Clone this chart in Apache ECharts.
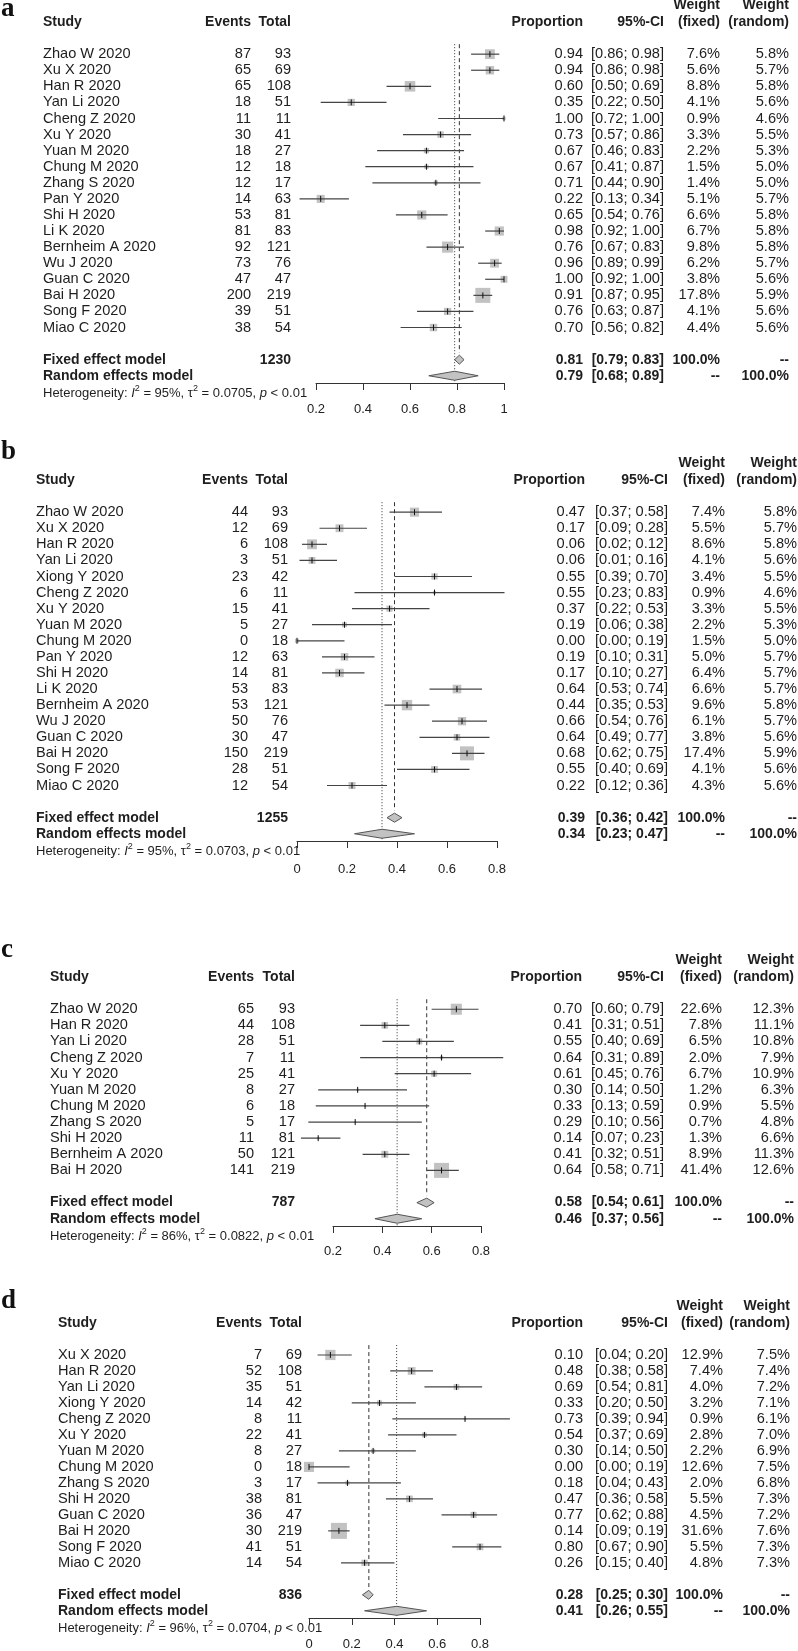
<!DOCTYPE html>
<html><head><meta charset="utf-8">
<script src="https://cdn.jsdelivr.net/npm/echarts@6/dist/echarts.min.js"></script>
<style>html,body{margin:0;padding:0;background:#fff}#c{width:798px;height:1651px}</style>
</head><body><div id="c"></div>
<script>
// ---------- Panel a ----------
const studiesA = ['Zhao W 2020','Xu X 2020','Han R 2020','Yan Li 2020','Cheng Z 2020','Xu Y 2020','Yuan M 2020','Chung M 2020','Zhang S 2020','Pan Y 2020','Shi H 2020','Li K 2020','Bernheim A 2020','Wu J 2020','Guan C 2020','Bai H 2020','Song F 2020','Miao C 2020'];
const eventsA = [87,65,65,18,11,30,18,12,12,14,53,81,92,73,47,200,39,38];
const totalA = [93,69,108,51,11,41,27,18,17,63,81,83,121,76,47,219,51,54];
const propA = [0.94,0.94,0.60,0.35,1.00,0.73,0.67,0.67,0.71,0.22,0.65,0.98,0.76,0.96,1.00,0.91,0.76,0.70];
const lowerA = [0.86,0.86,0.50,0.22,0.72,0.57,0.46,0.41,0.44,0.13,0.54,0.92,0.67,0.89,0.92,0.87,0.63,0.56];
const upperA = [0.98,0.98,0.69,0.50,1.00,0.86,0.83,0.87,0.90,0.34,0.76,1.00,0.83,0.99,1.00,0.95,0.87,0.82];
const wFixedA = [7.6,5.6,8.8,4.1,0.9,3.3,2.2,1.5,1.4,5.1,6.6,6.7,9.8,6.2,3.8,17.8,4.1,4.4];
const wRandomA = [5.8,5.7,5.8,5.6,4.6,5.5,5.3,5.0,5.0,5.7,5.8,5.8,5.8,5.7,5.6,5.9,5.6,5.6];
const fixedA = [0.81,0.79,0.83];
const randomA = [0.79,0.68,0.89];
const sumTotalA = 1230;
const hetA = ['95%','0.0705','< 0.01'];
const ticksA = [0.2,0.4,0.6,0.8,1];

// ---------- Panel b ----------
const studiesB = ['Zhao W 2020','Xu X 2020','Han R 2020','Yan Li 2020','Xiong Y 2020','Cheng Z 2020','Xu Y 2020','Yuan M 2020','Chung M 2020','Pan Y 2020','Shi H 2020','Li K 2020','Bernheim A 2020','Wu J 2020','Guan C 2020','Bai H 2020','Song F 2020','Miao C 2020'];
const eventsB = [44,12,6,3,23,6,15,5,0,12,14,53,53,50,30,150,28,12];
const totalB = [93,69,108,51,42,11,41,27,18,63,81,83,121,76,47,219,51,54];
const propB = [0.47,0.17,0.06,0.06,0.55,0.55,0.37,0.19,0.00,0.19,0.17,0.64,0.44,0.66,0.64,0.68,0.55,0.22];
const lowerB = [0.37,0.09,0.02,0.01,0.39,0.23,0.22,0.06,0.00,0.10,0.10,0.53,0.35,0.54,0.49,0.62,0.40,0.12];
const upperB = [0.58,0.28,0.12,0.16,0.70,0.83,0.53,0.38,0.19,0.31,0.27,0.74,0.53,0.76,0.77,0.75,0.69,0.36];
const wFixedB = [7.4,5.5,8.6,4.1,3.4,0.9,3.3,2.2,1.5,5.0,6.4,6.6,9.6,6.1,3.8,17.4,4.1,4.3];
const wRandomB = [5.8,5.7,5.8,5.6,5.5,4.6,5.5,5.3,5.0,5.7,5.7,5.7,5.8,5.7,5.6,5.9,5.6,5.6];
const fixedB = [0.39,0.36,0.42];
const randomB = [0.34,0.23,0.47];
const sumTotalB = 1255;
const hetB = ['95%','0.0703','< 0.01'];
const ticksB = [0,0.2,0.4,0.6,0.8];

// ---------- Panel c ----------
const studiesC = ['Zhao W 2020','Han R 2020','Yan Li 2020','Cheng Z 2020','Xu Y 2020','Yuan M 2020','Chung M 2020','Zhang S 2020','Shi H 2020','Bernheim A 2020','Bai H 2020'];
const eventsC = [65,44,28,7,25,8,6,5,11,50,141];
const totalC = [93,108,51,11,41,27,18,17,81,121,219];
const propC = [0.70,0.41,0.55,0.64,0.61,0.30,0.33,0.29,0.14,0.41,0.64];
const lowerC = [0.60,0.31,0.40,0.31,0.45,0.14,0.13,0.10,0.07,0.32,0.58];
const upperC = [0.79,0.51,0.69,0.89,0.76,0.50,0.59,0.56,0.23,0.51,0.71];
const wFixedC = [22.6,7.8,6.5,2.0,6.7,1.2,0.9,0.7,1.3,8.9,41.4];
const wRandomC = [12.3,11.1,10.8,7.9,10.9,6.3,5.5,4.8,6.6,11.3,12.6];
const fixedC = [0.58,0.54,0.61];
const randomC = [0.46,0.37,0.56];
const sumTotalC = 787;
const hetC = ['86%','0.0822','< 0.01'];
const ticksC = [0.2,0.4,0.6,0.8];

// ---------- Panel d ----------
const studiesD = ['Xu X 2020','Han R 2020','Yan Li 2020','Xiong Y 2020','Cheng Z 2020','Xu Y 2020','Yuan M 2020','Chung M 2020','Zhang S 2020','Shi H 2020','Guan C 2020','Bai H 2020','Song F 2020','Miao C 2020'];
const eventsD = [7,52,35,14,8,22,8,0,3,38,36,30,41,14];
const totalD = [69,108,51,42,11,41,27,18,17,81,47,219,51,54];
const propD = [0.10,0.48,0.69,0.33,0.73,0.54,0.30,0.00,0.18,0.47,0.77,0.14,0.80,0.26];
const lowerD = [0.04,0.38,0.54,0.20,0.39,0.37,0.14,0.00,0.04,0.36,0.62,0.09,0.67,0.15];
const upperD = [0.20,0.58,0.81,0.50,0.94,0.69,0.50,0.19,0.43,0.58,0.88,0.19,0.90,0.40];
const wFixedD = [12.9,7.4,4.0,3.2,0.9,2.8,2.2,12.6,2.0,5.5,4.5,31.6,5.5,4.8];
const wRandomD = [7.5,7.4,7.2,7.1,6.1,7.0,6.9,7.5,6.8,7.3,7.2,7.6,7.3,7.3];
const fixedD = [0.28,0.25,0.30];
const randomD = [0.41,0.26,0.55];
const sumTotalD = 836;
const hetD = ['96%','0.0704','< 0.01'];
const ticksD = [0,0.2,0.4,0.6,0.8];

const panels = [
  {studies:studiesA, events:eventsA, total:totalA, prop:propA, lower:lowerA, upper:upperA, wFixed:wFixedA, wRandom:wRandomA, fixed:fixedA, random:randomA, sumTotal:sumTotalA, het:hetA, ticks:ticksA},
  {studies:studiesB, events:eventsB, total:totalB, prop:propB, lower:lowerB, upper:upperB, wFixed:wFixedB, wRandom:wRandomB, fixed:fixedB, random:randomB, sumTotal:sumTotalB, het:hetB, ticks:ticksB},
  {studies:studiesC, events:eventsC, total:totalC, prop:propC, lower:lowerC, upper:upperC, wFixed:wFixedC, wRandom:wRandomC, fixed:fixedC, random:randomC, sumTotal:sumTotalC, het:hetC, ticks:ticksC},
  {studies:studiesD, events:eventsD, total:totalD, prop:propD, lower:lowerD, upper:upperD, wFixed:wFixedD, wRandom:wRandomD, fixed:fixedD, random:randomD, sumTotal:sumTotalD, het:hetD, ticks:ticksD}
];

// ---------- Layout (positions / sizes) ----------
const layouts = [
  {label:'a', labelY:9,    top:22,   axisY:383,  xl:316, xr:504, lm:20, cols:[43,251,291,583,664,720,789], box:15},
  {label:'b', labelY:452,  top:480,  axisY:841,  xl:297, xr:497, lm:22, cols:[36,248,288,585,668,725,797], box:14},
  {label:'c', labelY:950,  top:977,  axisY:1226, xl:333, xr:481, lm:19, cols:[50,254,295,582,664,722,794], box:15},
  {label:'d', labelY:1301, top:1323, axisY:1620, xl:309, xr:480, lm:20, cols:[58,262,302,583,668,723,790], box:16}
];

const FONT = '"Liberation Sans", Arial, Helvetica, sans-serif';
const TXT = '#1e1e1e';
const LINE = '#444';
const GRAY = '#c2c2c2';
const REG = 14.6, BOLD = 14;

function txt(s, x, y, align, bold) {
  return {type:'text', silent:true, style:{text:s, x:x, y:y, align:align, verticalAlign:'middle',
    textAlign:align, textVerticalAlign:'middle',
    font:(bold ? 'bold ' + BOLD : REG) + 'px ' + FONT, fill:TXT}};
}
const f2 = v => v.toFixed(2);
const ci = (lo, hi) => '[' + f2(lo) + '; ' + f2(hi) + ']';
const pct = v => v.toFixed(1) + '%';

const grids = [], xAxes = [], yAxes = [], series = [], graphics = [];

panels.forEach((P, p) => {
  const L = layouts[p];
  const n = P.studies.length;
  const xmin = P.ticks[0], xmax = P.ticks[P.ticks.length - 1];
  const step = Math.round((P.ticks[1] - P.ticks[0]) * 1000) / 1000;
  const C = L.cols;
  grids.push({left:L.xl, width:L.xr - L.xl, top:L.top, height:L.axisY - L.top, containLabel:false});
  xAxes.push({gridIndex:p, type:'value', min:xmin, max:xmax, interval:step, position:'bottom',
    axisLine:{show:true, onZero:false, lineStyle:{color:'#333', width:1}},
    axisTick:{show:true, inside:false, length:7, lineStyle:{color:'#333', width:1}},
    axisLabel:{color:'#222', fontSize:13, fontFamily:FONT, margin:L.lm},
    splitLine:{show:false}});
  yAxes.push({gridIndex:p, type:'value', min:-2, max:n + 2.45, inverse:true, show:false});

  // reference lines (fixed: dashed, random: dotted)
  series.push({type:'custom', xAxisIndex:p, yAxisIndex:p, silent:true, clip:false,
    data:[[P.fixed[0], n + 0.55, 0], [P.random[0], n + 2.45, 1]],
    renderItem:function(params, api) {
      const a = api.coord([api.value(0), -0.62]);
      const b = api.coord([api.value(0), api.value(1)]);
      const dotted = api.value(2) === 1;
      return {type:'line', shape:{x1:a[0], y1:a[1], x2:b[0], y2:b[1]},
        style:{stroke:'#333', lineWidth:1, lineDash: dotted ? [1, 2] : [4, 3]}};
    }});

  // study CIs and boxes
  const maxW = Math.max.apply(null, P.wFixed);
  series.push({type:'custom', xAxisIndex:p, yAxisIndex:p, silent:true, clip:false,
    data:P.prop.map((v, i) => [v, i, P.lower[i], P.upper[i], P.wFixed[i]]),
    renderItem:function(params, api) {
      const i = api.value(1);
      const pe = api.coord([api.value(0), i]);
      const pl = api.coord([api.value(2), i]);
      const ph = api.coord([api.value(3), i]);
      const s = L.box * Math.sqrt(api.value(4) / maxW);
      return {type:'group', children:[
        {type:'rect', shape:{x:pe[0] - s / 2, y:pe[1] - s / 2, width:s, height:s}, style:{fill:GRAY}},
        {type:'line', shape:{x1:pl[0], y1:pl[1], x2:ph[0], y2:ph[1]}, style:{stroke:LINE, lineWidth:1.2}},
        {type:'line', shape:{x1:pe[0], y1:pe[1] - 3, x2:pe[0], y2:pe[1] + 3}, style:{stroke:'#111', lineWidth:1}}
      ]};
    }});

  // summary diamonds + text
  series.push({type:'custom', xAxisIndex:p, yAxisIndex:p, silent:true, clip:false,
    data:[[P.fixed[0], n + 1, P.fixed[1], P.fixed[2], 0], [P.random[0], n + 2, P.random[1], P.random[2], 1]],
    renderItem:function(params, api) {
      const r = api.value(1);
      const pe = api.coord([api.value(0), r]);
      const pl = api.coord([api.value(2), r]);
      const ph = api.coord([api.value(3), r]);
      const h = 4.5, y = pe[1];
      const isRandom = api.value(4) === 1;
      return {type:'group', children:[
        {type:'polygon', shape:{points:[[pl[0], y], [pe[0], y - h], [ph[0], y], [pe[0], y + h]]},
          style:{fill:GRAY, stroke:'#555', lineWidth:1}},
        txt(isRandom ? 'Random effects model' : 'Fixed effect model', C[0], y, 'left', true),
        txt(isRandom ? '' : String(P.sumTotal), C[2], y, 'right', true),
        txt(f2(api.value(0)), C[3], y, 'right', true),
        txt(ci(api.value(2), api.value(3)), C[4], y, 'right', true),
        txt(isRandom ? '--' : '100.0%', C[5], y, 'right', true),
        txt(isRandom ? '100.0%' : '--', C[6], y, 'right', true)
      ]};
    }});

  // study table text
  series.push({type:'custom', xAxisIndex:p, yAxisIndex:p, silent:true, clip:false,
    data:P.prop.map((v, i) => [v, i]),
    renderItem:function(params, api) {
      const k = params.dataIndex;
      const y = api.coord([xmin, api.value(1)])[1];
      return {type:'group', children:[
        txt(P.studies[k], C[0], y, 'left'),
        txt(String(P.events[k]), C[1], y, 'right'),
        txt(String(P.total[k]), C[2], y, 'right'),
        txt(f2(P.prop[k]), C[3], y, 'right'),
        txt(ci(P.lower[k], P.upper[k]), C[4], y, 'right'),
        txt(pct(P.wFixed[k]), C[5], y, 'right'),
        txt(pct(P.wRandom[k]), C[6], y, 'right')
      ]};
    }});

  // headers + heterogeneity
  series.push({type:'custom', xAxisIndex:p, yAxisIndex:p, silent:true, clip:false,
    data:[[xmin, -2]],
    renderItem:function(params, api) {
      const yh = api.coord([xmin, -2])[1];
      const yw = api.coord([xmin, -3.05])[1];
      const yhet = api.coord([xmin, n + 3.1])[1];
      return {type:'group', children:[
        txt('Study', C[0], yh, 'left', true),
        txt('Events', C[1], yh, 'right', true),
        txt('Total', C[2], yh, 'right', true),
        txt('Proportion', C[3], yh, 'right', true),
        txt('95%-CI', C[4], yh, 'right', true),
        txt('Weight', C[5], yw, 'right', true),
        txt('(fixed)', C[5], yh, 'right', true),
        txt('Weight', C[6], yw, 'right', true),
        txt('(random)', C[6], yh, 'right', true),
        {type:'text', silent:true, style:{
          text:'Heterogeneity: {it|I}{sup|2} = ' + P.het[0] + ', \u03C4{sup|2} = ' + P.het[1] + ', {it|p} ' + P.het[2],
          x:C[0], y:yhet, align:'left', verticalAlign:'middle', textAlign:'left', textVerticalAlign:'middle',
          fontSize:13, fontFamily:FONT, fill:TXT, lineHeight:18,
          rich:{
            it:{fontStyle:'italic', fontSize:13, fontFamily:FONT, fill:TXT, lineHeight:18},
            sup:{fontSize:9, fontFamily:FONT, fill:TXT, lineHeight:10, verticalAlign:'top'}
          }}}
      ]};
    }});

  graphics.push({type:'text', silent:true, style:{text:L.label, x:1, y:L.labelY,
    textVerticalAlign:'middle', verticalAlign:'middle',
    font:'bold 27px "Liberation Serif", "Times New Roman", serif', fill:'#111'}});
});

const chart = echarts.init(document.getElementById('c'), null, {renderer:'canvas'});
chart.setOption({
  animation:false,
  backgroundColor:'#fff',
  grid:grids, xAxis:xAxes, yAxis:yAxes, series:series,
  graphic:graphics
});
</script>
</body></html>
